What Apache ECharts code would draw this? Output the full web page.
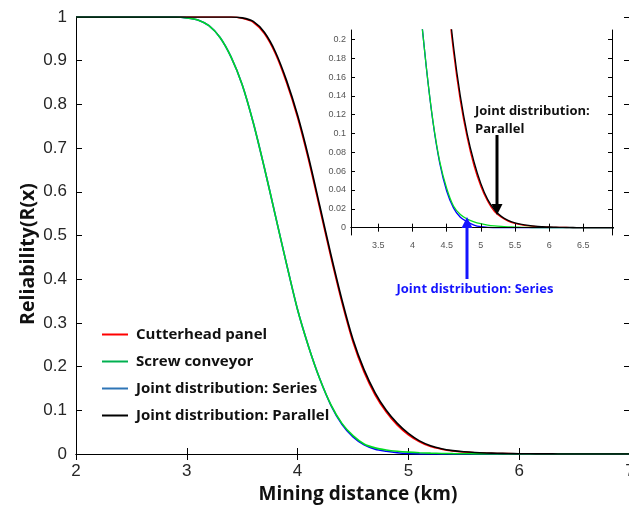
<!DOCTYPE html>
<html>
<head>
<meta charset="utf-8">
<script src="https://cdn.jsdelivr.net/npm/echarts@6/dist/echarts.min.js"></script>
<style>
html,body{margin:0;padding:0;background:#fff;}
#chart{width:629px;height:512px;}
</style>
</head>
<body>
<div id="chart"></div>
<script>
// Mining distance (km)
var distance = [2.0,2.1,2.2,2.3,2.4,2.5,2.6,2.7,2.8,2.9,
                3.0,3.1,3.2,3.3,3.4,3.5,3.6,3.7,3.8,3.9,
                4.0,4.1,4.2,4.3,4.4,4.5,4.6,4.7,4.8,4.9,
                5.0,5.1,5.2,5.3,5.4,5.5,5.6,5.7,5.8,5.9,
                6.0,6.1,6.2,6.3,6.4,6.5,6.6,6.7,6.8,6.9,7.0];
// Cutterhead panel (red)
var cutterhead = [1,1,1,1,1,1,1,1,1,1,
                  1,1,1,1,1.0,0.997,0.988,0.962,0.916,0.850,
                  0.770,0.672,0.562,0.451,0.347,0.256,0.187,0.135,0.096,0.066,
                  0.044,0.028,0.017,0.011,0.0070,0.0045,0.0029,0.0019,0.0012,0.0008,
                  0.0005,0.0003,0.0002,0.0001,0,0,0,0,0,0,0];
// Screw conveyor (green)
var screw = [1,1,1,1,1,1,1,1,1,1,
             0.998,0.993,0.980,0.953,0.908,0.845,0.758,0.655,0.545,0.435,
             0.330,0.245,0.172,0.113,0.070,0.042,0.023,0.014,0.0092,0.0062,
             0.0042,0.0028,0.0019,0.0013,0.0009,0.0006,0.0004,0.0002,0.0001,0,
             0,0,0,0,0,0,0,0,0,0,0];
// Joint distribution: Series (blue)
var jointSeries = [1,1,1,1,1,1,1,1,1,1,
                   0.998,0.993,0.980,0.953,0.908,0.845,0.758,0.655,0.545,0.435,
                   0.330,0.245,0.172,0.112,0.068,0.039,0.021,0.011,0.0062,0.0028,
                   0.0010,0.0003,0.0001,0,0,0,0,0,0,0,
                   0,0,0,0,0,0,0,0,0,0,0];
// Joint distribution: Parallel (black)
var jointParallel = [1,1,1,1,1,1,1,1,1,1,
                     1,1,1,1,1.0,0.998,0.990,0.965,0.920,0.855,
                     0.775,0.678,0.568,0.457,0.353,0.262,0.193,0.140,0.100,0.070,
                     0.047,0.030,0.019,0.012,0.0078,0.0052,0.0035,0.0024,0.0016,0.0011,
                     0.0007,0.0005,0.0003,0.0002,0.0001,0,0,0,0,0,0];

var insetXTicks = [3.5,4,4.5,5,5.5,6,6.5];
var insetYTicks = [0,0.02,0.04,0.06,0.08,0.1,0.12,0.14,0.16,0.18,0.2];

var names = ['Cutterhead panel','Screw conveyor','Joint distribution: Series','Joint distribution: Parallel'];
var lineColors = ['#ff0000','#00dd22','#0000ff','#000000'];
var legendColors = ['#ff0000','#00b050','#2e75b6','#000000'];
var values = [cutterhead, screw, jointSeries, jointParallel];
var drawOrder = [0,2,1,3];

function pairs(arr){ return distance.map(function(x,i){ return [x, arr[i]]; }); }
function fmt(v){ return String(Math.round(v*100)/100); }

var chart = echarts.init(document.getElementById('chart'), null, {renderer:'canvas'});

var tickFont = 'Liberation Sans, Arial, sans-serif';
var boldFont = 'Open Sans, Noto Sans, sans-serif';

function mainAxis(extra){
  return Object.assign({
    type:'value', gridIndex:0,
    axisLine:{show:true, lineStyle:{color:'#000', width:1}},
    axisTick:{show:true, inside:true, length:6, lineStyle:{color:'#000'}},
    splitLine:{show:false},
    axisLabel:{show:false}
  }, extra);
}
function insetAxis(extra){
  return Object.assign({
    type:'value', gridIndex:1, z:12,
    axisLine:{show:true, lineStyle:{color:'#000', width:1}},
    splitLine:{show:false},
    axisLabel:{show:false}
  }, extra);
}

var series = [];
drawOrder.forEach(function(k){
  series.push({
    name:names[k], type:'line', xAxisIndex:0, yAxisIndex:0,
    data:pairs(values[k]), symbol:'none', smooth:0.3,
    lineStyle:{color:lineColors[k], width:1.6}, itemStyle:{color:lineColors[k]}, z:2
  });
});
drawOrder.forEach(function(k){
  series.push({
    name:names[k], type:'line', xAxisIndex:2, yAxisIndex:2,
    data:pairs(values[k]), symbol:'none', smooth:0.3,
    lineStyle:{color:lineColors[k], width:1.3}, itemStyle:{color:lineColors[k]}, z:11
  });
});

var option = {
  animation:false,
  backgroundColor:'#fff',
  grid:[
    {left:76, right:-1, top:17, bottom:58, outerBoundsMode:'none', containLabel:false},
    {left:351, right:17, top:30, bottom:277, outerBoundsMode:'none', containLabel:false}
  ],
  xAxis:[
    mainAxis({min:2, max:7, interval:1, position:'bottom',
      axisLabel:{show:true, fontSize:17, color:'#262626', fontFamily:tickFont, margin:9, showMaxLabel:true, hideOverlap:false}}),
    mainAxis({min:2, max:7, interval:1, position:'top'}),
    insetAxis({min:3.1, max:6.92, position:'bottom',
      axisTick:{show:true, inside:true, length:4, customValues:insetXTicks, lineStyle:{color:'#000'}},
      axisLabel:{show:true, customValues:insetXTicks, fontSize:9, color:'#555', fontFamily:tickFont, margin:6, formatter:fmt}}),
    insetAxis({min:3.1, max:6.92, position:'top',
      axisTick:{show:true, inside:true, length:4, customValues:insetXTicks, lineStyle:{color:'#000'}}})
  ],
  yAxis:[
    mainAxis({min:0, max:1, interval:0.1, position:'left',
      axisLabel:{show:true, fontSize:17, color:'#262626', fontFamily:tickFont, margin:9, formatter:fmt}}),
    mainAxis({min:0, max:1, interval:0.1, position:'right'}),
    insetAxis({min:-0.0078, max:0.21, position:'left',
      axisTick:{show:true, inside:true, length:4, customValues:insetYTicks, lineStyle:{color:'#000'}},
      axisLabel:{show:true, customValues:insetYTicks, fontSize:9, color:'#555', fontFamily:tickFont, margin:5, formatter:fmt}}),
    insetAxis({min:-0.0078, max:0.21, position:'right',
      axisTick:{show:true, inside:true, length:4, customValues:insetYTicks, lineStyle:{color:'#000'}}})
  ],
  legend:{
    orient:'vertical', left:97, top:319, icon:'rect', itemWidth:26, itemHeight:2, itemGap:6,
    textStyle:{fontFamily:boldFont, fontWeight:'bold', fontSize:15, lineHeight:21, color:'#111', padding:[0,0,0,3]},
    data:names.map(function(n,i){ return {name:n, itemStyle:{color:legendColors[i]}}; })
  },
  series:series,
  graphic:[
    {type:'rect', z:5, shape:{x:351, y:30, width:261, height:205}, style:{fill:'#fff'}},
    {type:'text', z:20, x:28, y:254, rotation:Math.PI/2,
      style:{text:'Reliability(R(x)', fontFamily:boldFont, fontWeight:'bold', fontSize:19.5, fill:'#111', align:'center', verticalAlign:'middle'}},
    {type:'text', z:20, x:358, y:495,
      style:{text:'Mining distance (km)', fontFamily:boldFont, fontWeight:'bold', fontSize:19, fill:'#111', align:'center', verticalAlign:'middle'}},
    {type:'text', z:20, x:475, y:120,
      style:{text:'Joint distribution:\nParallel', fontFamily:boldFont, fontWeight:'bold', fontSize:13, lineHeight:18, fill:'#111', align:'left', verticalAlign:'middle'}},
    {type:'line', z:20, shape:{x1:497, y1:135, x2:497, y2:206}, style:{stroke:'#000', lineWidth:3}},
    {type:'polygon', z:20, shape:{points:[[491.5,204],[502.5,204],[497,215]]}, style:{fill:'#000'}},
    {type:'text', z:20, x:475, y:289,
      style:{text:'Joint distribution: Series', fontFamily:boldFont, fontWeight:'bold', fontSize:13, fill:'#1414ff', align:'center', verticalAlign:'middle'}},
    {type:'line', z:20, shape:{x1:467, y1:279, x2:467, y2:226}, style:{stroke:'#1414ff', lineWidth:3}},
    {type:'polygon', z:20, shape:{points:[[461.5,228],[472.5,228],[467,217]]}, style:{fill:'#1414ff'}}
  ]
};
chart.setOption(option);
</script>
</body>
</html>
